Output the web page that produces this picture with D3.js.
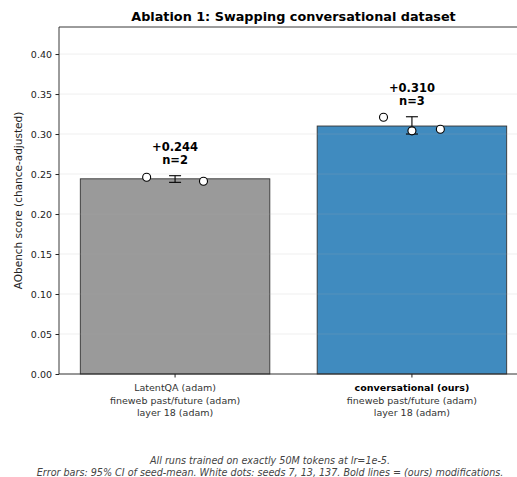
<!DOCTYPE html>
<html>
<head>
<meta charset="utf-8">
<script src="https://cdn.jsdelivr.net/npm/d3@7"></script>
<style>
  body { margin: 0; background: #fff; }
  svg { font-family: "DejaVu Sans", sans-serif; }
</style>
</head>
<body>
<div id="chart"></div>
<script>

// data
let labels1 = ["LatentQA (adam)", "conversational (ours)"];
let labels2 = ["fineweb past/future (adam)", "fineweb past/future (adam)"];
let labels3 = ["layer 18 (adam)", "layer 18 (adam)"];
let boldFirst = [false, true];
let means = [0.244, 0.310];
let ciLow = [0.2396, 0.300];
let ciHigh = [0.2479, 0.3216];
let seeds = [[0.246, 0.241], [0.321, 0.304, 0.306]];
let colors = ["#9a9a9a", "#408bbf"];
let yTicks = [0, 0.05, 0.10, 0.15, 0.20, 0.25, 0.30, 0.35, 0.40];

let w = 517, h = 477;

const svg = d3.select("#chart")
    .append("svg")
    .attr("width", w)
    .attr("height", h);

// axes box runs a bit past the right edge (picture is cropped)
let padL = 59, padR = 528, padT = 27, padB = 374;

let xScale = d3.scaleLinear()
    .domain([-0.49, 1.49])
    .range([padL, padR]);

let yScale = d3.scaleLinear()
    .domain([0, 0.4338])
    .range([padB, padT]);

let barW = 0.8;

// bars
svg.selectAll("rect.bar")
    .data(means)
    .enter()
    .append("rect")
    .attr("class", "bar")
    .attr("x", (d, i) => xScale(i - barW / 2))
    .attr("width", xScale(barW) - xScale(0))
    .attr("y", d => yScale(d))
    .attr("height", d => yScale(0) - yScale(d))
    .attr("fill", (d, i) => colors[i])
    .attr("stroke", "#333")
    .attr("stroke-width", 0.9);

// grid on top, faint
svg.append("g")
    .selectAll("line")
    .data(yTicks)
    .enter()
    .append("line")
    .attr("x1", padL)
    .attr("x2", padR)
    .attr("y1", d => yScale(d))
    .attr("y2", d => yScale(d))
    .attr("stroke", "#b0b0b0")
    .attr("stroke-opacity", 0.25)
    .attr("stroke-width", 0.8);

// error bars
let capW = 6;
means.forEach((m, i) => {
    let cx = xScale(i);
    let g = svg.append("g").attr("stroke", "#000").attr("stroke-width", 1.1);
    g.append("line").attr("x1", cx).attr("x2", cx).attr("y1", yScale(ciLow[i])).attr("y2", yScale(ciHigh[i]));
    g.append("line").attr("x1", cx - capW).attr("x2", cx + capW).attr("y1", yScale(ciLow[i])).attr("y2", yScale(ciLow[i]));
    g.append("line").attr("x1", cx - capW).attr("x2", cx + capW).attr("y1", yScale(ciHigh[i])).attr("y2", yScale(ciHigh[i]));
});

// seed dots
seeds.forEach((s, i) => {
    let n = s.length;
    let offs = d3.range(n).map(k => n == 1 ? 0 : -0.12 + 0.24 * k / (n - 1));
    svg.append("g")
        .selectAll("circle")
        .data(s)
        .enter()
        .append("circle")
        .attr("cx", (d, k) => xScale(i + offs[k]))
        .attr("cy", d => yScale(d))
        .attr("r", 4)
        .attr("fill", "#fff")
        .attr("stroke", "#000")
        .attr("stroke-width", 1.1);
});

// value labels
means.forEach((m, i) => {
    let base = yScale(ciHigh[i]) - 12;
    let t = svg.append("text")
        .attr("x", xScale(i))
        .attr("text-anchor", "middle")
        .style("font-size", "11.5px")
        .style("font-weight", "bold");
    t.append("tspan").attr("x", xScale(i)).attr("y", base - 13).text("+" + m.toFixed(3));
    t.append("tspan").attr("x", xScale(i)).attr("y", base).text("n=" + seeds[i].length);
});

// y axis
const yAxis = d3.axisLeft(yScale).tickValues(yTicks).tickFormat(d3.format(".2f")).tickSize(3.5).tickPadding(3.5);
svg.append("g")
    .attr("transform", "translate(" + padL + ",0)")
    .call(yAxis)
    .call(g => g.select(".domain").remove())
    .call(g => g.selectAll("text").style("font-size", "9.5px").attr("fill", "#222").style("font-family", "DejaVu Sans"))
    .call(g => g.selectAll("line").attr("stroke", "#222"));

// spines
svg.append("line").attr("x1", padL).attr("x2", padL).attr("y1", padT).attr("y2", padB).attr("stroke", "#222").attr("stroke-width", 0.9);
svg.append("line").attr("x1", padL).attr("x2", padR).attr("y1", padB).attr("y2", padB).attr("stroke", "#222").attr("stroke-width", 0.9);
svg.append("line").attr("x1", padL).attr("x2", padR).attr("y1", padT).attr("y2", padT).attr("stroke", "#222").attr("stroke-width", 0.9);

// x ticks + labels
means.forEach((m, i) => {
    let cx = xScale(i);
    svg.append("line").attr("x1", cx).attr("x2", cx).attr("y1", padB).attr("y2", padB + 3.5).attr("stroke", "#222");
    let t = svg.append("text").attr("text-anchor", "middle").style("font-size", "9.5px").attr("fill", "#333");
    t.append("tspan").attr("x", cx).attr("y", 391).text(labels1[i])
        .style("font-weight", boldFirst[i] ? "bold" : "normal")
        .attr("fill", boldFirst[i] ? "#000" : "#333");
    t.append("tspan").attr("x", cx).attr("y", 403.5).text(labels2[i]);
    t.append("tspan").attr("x", cx).attr("y", 416).text(labels3[i]);
});

// y label
svg.append("text")
    .attr("transform", "translate(22," + ((padT + padB) / 2) + ") rotate(-90)")
    .attr("text-anchor", "middle")
    .style("font-size", "10.5px")
    .attr("fill", "#222")
    .text("AObench score (chance-adjusted)");

// title
svg.append("text")
    .attr("x", (padL + padR) / 2)
    .attr("y", 21)
    .attr("text-anchor", "middle")
    .style("font-size", "12.8px")
    .style("font-weight", "bold")
    .text("Ablation 1: Swapping conversational dataset");

// footnote
let foot = svg.append("text")
    .attr("text-anchor", "middle")
    .style("font-size", "9.6px")
    .style("font-style", "italic")
    .attr("fill", "#444");
foot.append("tspan").attr("x", 270).attr("y", 464).text("All runs trained on exactly 50M tokens at lr=1e-5.");
foot.append("tspan").attr("x", 270).attr("y", 476).text("Error bars: 95% CI of seed-mean. White dots: seeds 7, 13, 137. Bold lines = (ours) modifications.");

</script>
</body>
</html>
